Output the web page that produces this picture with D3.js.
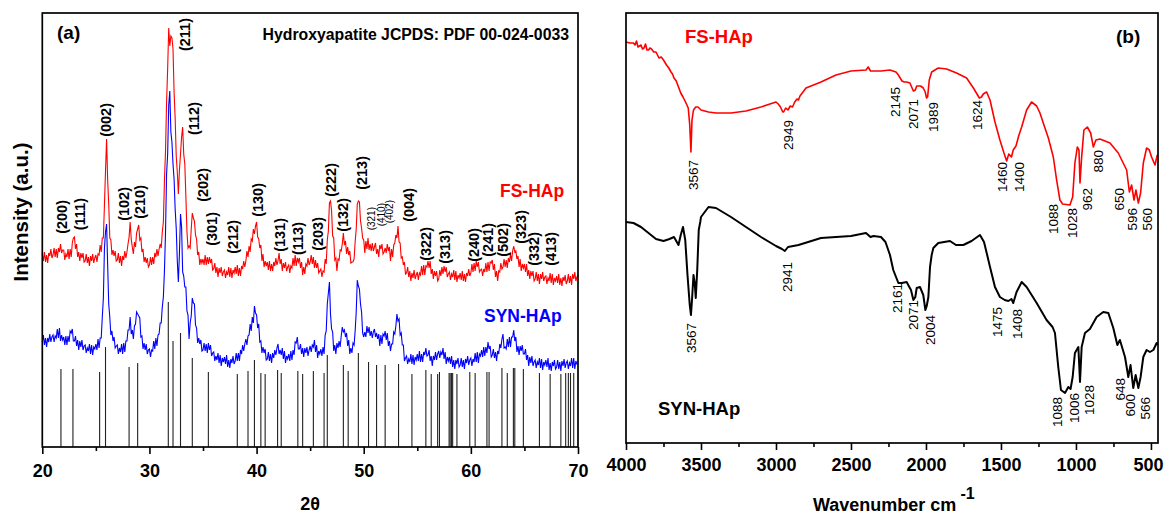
<!DOCTYPE html>
<html><head><meta charset="utf-8">
<script src="https://cdn.jsdelivr.net/npm/d3@7"></script>
<style>
body{margin:0;background:#fff}
svg{display:block}
text{font-family:"Liberation Sans",Arial,Helvetica,sans-serif}
</style>
</head><body>
<svg id="chart" width="1164" height="515"></svg>
<script>
// ---------- (a) XRD data: intensities sampled every 0.1 degree from 20 to 70 (2θ) ----------
const xrdStart = 20, xrdStep = 0.1;
const fsHApXRD = [
193,186,195,185,192,184,194,191,198,189,
192,199,190,198,189,199,195,203,194,197,
197,187,193,190,198,188,198,190,204,209,
210,198,203,190,195,186,194,189,194,185,
186,193,184,190,181,191,186,193,184,189,
192,185,193,192,202,195,209,209,242,276,
308,267,243,209,207,192,197,191,196,186,
187,194,184,191,181,191,187,196,189,195,
203,210,225,208,200,193,205,200,214,218,
222,207,209,195,198,185,190,184,189,180,
182,190,182,190,183,194,190,198,191,198,
203,199,215,225,266,296,345,378,419,401,
411,409,398,355,329,291,275,253,277,293,
310,320,293,283,251,216,199,201,199,218,
234,229,226,212,208,192,195,182,188,184,
188,182,192,182,190,183,190,184,188,177,
178,184,174,180,170,179,174,180,171,175,
177,169,175,172,180,170,179,169,177,174,
180,173,182,171,179,171,181,178,186,180,
186,196,190,201,195,208,206,218,213,221,
225,210,208,199,202,186,193,180,186,181,
185,177,186,176,183,176,185,181,189,182,
186,194,183,188,176,184,179,185,176,180,
182,174,181,179,189,181,192,181,189,185,
189,179,185,172,180,173,183,181,189,182,
185,192,183,190,179,187,179,184,174,176,
178,170,176,175,188,183,207,216,244,246,
236,211,209,187,189,176,188,187,197,196,
203,214,202,206,193,200,192,196,184,185,
185,188,205,218,243,246,245,226,219,209,
207,194,206,198,209,197,203,196,204,196,
200,204,193,198,190,202,198,203,193,195,
199,194,203,196,200,186,198,190,202,204,
212,209,221,205,204,189,190,182,185,173,
174,180,170,176,166,174,169,177,168,172,
175,167,174,172,181,172,182,172,181,180,
186,179,186,173,178,168,176,171,176,166,
168,177,171,180,173,181,175,180,170,173,
175,167,173,170,177,167,176,165,172,169,
174,167,176,166,173,165,174,171,178,171,
174,183,175,184,176,186,180,185,175,177,
178,171,178,175,184,175,185,176,185,184,
187,177,183,170,176,166,176,175,184,178,
180,188,180,187,179,189,185,193,186,196,
201,195,196,188,191,180,188,176,183,179,
183,175,183,171,177,168,176,171,176,166,
168,175,166,173,163,173,168,175,166,170,
171,163,169,166,174,164,173,162,169,166,
171,164,173,162,169,161,170,166,172,163,
166,173,164,171,162,173,168,175,166,170,
172];
const synHApXRD = [
105,112,102,109,100,109,105,113,105,110,
112,105,111,109,118,109,119,106,112,107,
110,102,111,102,111,105,116,114,118,106,
106,111,101,107,97,106,100,107,97,101,
102,94,99,96,103,93,102,92,100,98,
103,97,108,99,109,109,130,149,199,215,
223,182,143,130,112,116,106,110,99,101,
102,93,99,95,103,93,104,95,106,106,
117,117,130,113,117,108,121,123,135,133,
131,129,110,111,98,104,97,103,93,97,
98,90,97,96,106,98,109,101,112,113,
124,124,140,150,176,214,273,293,342,356,
315,305,283,268,238,219,186,165,194,233,
220,175,171,160,160,136,132,108,124,131,
149,144,143,122,119,104,109,103,107,96,
97,104,96,103,94,104,97,102,91,94,
95,86,91,87,94,84,92,81,89,85,
90,83,92,80,87,79,88,84,91,83,
86,94,86,94,86,97,93,102,96,103,
108,102,111,112,123,116,130,124,141,134,
132,119,123,105,106,94,100,94,98,87,
88,95,86,93,84,94,89,97,92,99,
103,93,97,92,99,88,96,84,91,88,
93,86,96,87,97,92,105,104,110,98,
98,103,93,99,90,99,94,100,91,97,
101,95,102,100,107,95,102,89,96,93,
98,91,100,93,112,116,143,154,165,133,
118,115,96,102,93,104,99,106,100,111,
120,115,117,110,114,101,107,93,99,94,
104,102,116,135,167,161,158,143,135,114,
110,115,110,121,114,120,111,116,109,115,
118,110,114,108,113,101,112,103,113,111,
116,107,114,101,106,96,103,103,115,113,
121,133,126,128,112,114,102,102,86,89,
91,83,88,85,93,83,92,82,90,87,
93,86,96,85,93,85,95,92,99,91,
92,97,86,91,81,91,87,95,87,93,
96,89,95,92,99,88,95,83,90,86,
90,83,91,80,87,78,87,83,89,80,
82,89,80,87,78,88,84,91,82,87,
89,81,88,85,94,85,95,84,93,91,
97,90,100,91,100,94,105,98,101,90,
92,98,89,95,86,96,93,103,99,108,
113,99,100,98,108,100,110,100,110,110,
117,106,110,95,101,92,101,96,102,93,
93,98,87,92,81,90,84,91,81,85,
87,79,85,82,89,79,88,77,85,82,
87,80,89,77,84,76,85,81,87,78,
80,87,78,85,76,86,81,88,79,84,
86,78,84,81,89,79,89,78,86,83,
84];
// JCPDS 00-024-0033 reference lines
const refPeak2Theta = [21.74,22.86,25.35,25.9,28.1,28.9,31.76,32.2,32.9,34.0,35.5,38.2,39.2,39.8,40.4,40.8,41.96,42.3,43.85,44.3,45.3,46.3,46.6,48.1,48.55,49.5,50.45,51.2,52.0,53.25,54.5,55.8,56.3,56.9,57.07,57.97,58.07,58.2,58.3,58.7,59.9,60.4,61.5,61.7,62.9,63.4,63.97,64.1,64.9,66.4,67.4,68.4,68.85,69.1,69.3,69.6];
const refPeakIntensity = [78,78,75,100,80,84,145,106,114,89,75,73,76,87,74,73,77,74,76,73,76,74,92,82,76,94,85,82,82,83,73,77,73,73,75,74,74,74,74,73,75,74,75,75,79,74,79,79,78,74,73,73,74,74,74,74];
// hkl annotations: [label, 2θ, top of label (intensity units)]
const hklLabels = [
["(200)",21.84,247],["(111)",23.52,249],["(002)",25.95,344],["(102)",27.62,260],["(210)",29.11,262],
["(211)",33.31,429],["(112)",34.15,345],["(202)",34.99,279],["(301)",35.83,235],["(212)",37.79,227],
["(130)",40.12,264],["(131)",42.17,229],["(113)",43.85,225],["(203)",45.72,230],["(222)",46.94,284],
["(132)",48.05,249],["(213)",49.82,291],["(321)",50.75,240],["(410)",51.68,244],["(402)",52.43,247],
["(004)",54.2,259],["(322)",55.8,220],["(313)",57.56,217],["(240)",60.27,219],["(241)",61.58,224],
["(502)",62.98,224],["(323)",64.65,237],["(332)",65.86,215],["(413)",67.44,215]];
const smallHkl = ["(321)","(410)","(402)"];
const xrdTicks = [20,30,40,50,60,70];
const xrdMinorTicks = [25,35,45,55,65];

// ---------- (b) FTIR data: [wavenumber cm-1, transmittance a.u.] ----------
const fsHApFTIR = [[4000,401],[3975,400],[3950,400],[3940,398],[3930,402],[3920,396],[3910,397],[3900,398],[3890,394],[3880,395],[3870,399],[3860,393],[3850,393],[3840,395],[3830,394],[3815,391],[3800,391],[3780,385],[3765,386],[3750,383],[3730,378],[3715,375],[3700,371],[3690,369],[3680,365],[3665,362],[3650,356],[3635,350],[3620,346],[3600,340],[3585,335],[3575,318],[3567,291],[3560,323],[3550,333],[3535,336],[3520,336],[3500,333],[3450,331],[3400,330],[3300,330],[3200,332],[3100,336],[3020,340],[3000,341],[2985,339],[2970,336],[2955,331],[2949,331],[2935,335],[2920,333],[2905,337],[2890,336],[2875,341],[2860,344],[2850,343],[2840,347],[2830,349],[2800,355],[2750,358],[2700,361],[2600,368],[2500,372],[2400,373],[2385,376],[2370,372],[2300,372],[2240,373],[2200,371],[2184,368],[2160,362],[2145,361],[2129,361],[2107,360],[2084,352],[2071,353],[2062,357],[2036,357],[2018,355],[2005,351],[1996,345],[1989,346],[1978,363],[1962,371],[1918,375],[1862,374],[1796,370],[1729,365],[1684,355],[1644,345],[1630,346],[1618,349],[1596,351],[1573,343],[1540,321],[1507,303],[1480,290],[1462,282],[1448,289],[1430,286],[1418,293],[1400,297],[1380,308],[1362,316],[1329,333],[1296,341],[1262,337],[1240,330],[1218,320],[1184,305],[1151,286],[1129,263],[1107,243],[1089,239],[1040,238],[1022,246],[1007,280],[991,296],[980,293],[973,260],[962,286],[947,313],[924,316],[902,310],[884,296],[867,303],[840,304],[773,300],[718,290],[662,273],[644,251],[629,258],[613,243],[600,253],[584,240],[569,250],[551,280],[529,295],[511,293],[496,286],[473,278],[458,288]];
const synHApFTIR = [[4000,221],[3950,220],[3900,216],[3850,210],[3800,204],[3750,202],[3710,204],[3680,206],[3650,198],[3635,208],[3620,216],[3605,203],[3590,168],[3575,138],[3567,128],[3560,143],[3550,168],[3542,160],[3535,145],[3525,173],[3515,213],[3505,221],[3500,226],[3450,236],[3400,235],[3300,226],[3200,216],[3100,206],[3000,197],[2960,194],[2941,192],[2920,196],[2850,198],[2700,205],[2500,207],[2400,210],[2370,206],[2350,207],[2300,206],[2270,201],[2240,188],[2218,173],[2184,160],[2161,160],[2129,161],[2100,153],[2084,143],[2071,146],[2062,155],[2040,156],[2018,148],[2004,133],[1995,137],[1984,146],[1973,176],[1962,188],[1951,195],[1918,200],[1840,202],[1800,198],[1751,198],[1696,202],[1640,208],[1613,201],[1600,193],[1573,176],[1540,156],[1507,146],[1475,143],[1451,142],[1430,144],[1418,140],[1396,151],[1362,161],[1329,156],[1262,140],[1196,123],[1156,116],[1140,110],[1118,76],[1100,53],[1073,50],[1051,56],[1036,54],[1022,66],[1007,90],[984,96],[973,61],[962,96],[940,110],[907,114],[862,126],[818,131],[784,130],[751,115],[724,98],[707,103],[673,86],[651,66],[636,78],[618,55],[602,68],[584,55],[569,66],[551,86],[529,93],[507,91],[484,93],[462,100],[455,98]];
// band annotations: [label, wavenumber, top of label (transmittance units)]
const fsBandLabels = [["3567",3553,283],["2949",2920,323],["2145",2207,356],["2071",2087,344],["1989",1953,341],["1624",1660,343],["1460",1493,281],["1400",1380,281],["1088",1153,239],["1028",1027,235],["962",927,255],["880",853,293],["650",713,255],["596",627,235],["560",527,235]];
const synBandLabels = [["3567",3567,120],["2941",2927,181],["2161",2193,160],["2071",2087,143],["2004",1973,128],["1475",1527,136],["1408",1393,134],["1088",1127,46],["1006",1013,50],["1028",913,58],["648",707,65],["600",640,49],["566",540,46]];
const ftirTicks = [4000,3500,3000,2500,2000,1500,1000,500];
const ftirMinorTicks = [3750,3250,2750,2250,1750,1250,750];

// ---------- drawing ----------
const svg = d3.select("#chart");
const xA = d3.scaleLinear().domain([20,70]).range([42.3,578]);
const yA = d3.scaleLinear().domain([0,434]).range([447,13]);
const xB = d3.scaleLinear().domain([4000,453]).range([626,1158]);
const yB = d3.scaleLinear().domain([0,430]).range([443,13]);

function frame(x, y){
  svg.append("rect").attr("x",x.range()[0]).attr("y",y.range()[1])
    .attr("width",x.range()[1]-x.range()[0]).attr("height",y.range()[0]-y.range()[1])
    .attr("fill","none").attr("stroke","#000").attr("stroke-width",1.7);
}
function bottomAxis(x, y, major, minor, pad){
  const g = svg.append("g").attr("transform",`translate(0,${y.range()[0]})`)
    .call(d3.axisBottom(x).tickValues(major).tickSize(7).tickPadding(pad).tickFormat(d3.format("d")));
  g.select(".domain").remove();
  g.selectAll("line").attr("stroke-width",1.6);
  g.selectAll("text").attr("font-size",18).attr("font-weight","bold").attr("fill","#000")
    .style("font-family",'"Liberation Sans",Arial,sans-serif');
  const m = svg.append("g").attr("transform",`translate(0,${y.range()[0]})`)
    .call(d3.axisBottom(x).tickValues(minor).tickSize(4).tickFormat(""));
  m.select(".domain").remove();
  m.selectAll("line").attr("stroke-width",1.6);
  return g;
}

// panel (a)
const gA = svg.append("g");
gA.selectAll("line.ref").data(refPeak2Theta).join("line").attr("class","ref")
  .attr("x1",d=>xA(d)).attr("x2",d=>xA(d))
  .attr("y1",yA(0)).attr("y2",(d,i)=>yA(refPeakIntensity[i]))
  .attr("stroke","#222").attr("stroke-width",1.1);
const lineA = d3.line().x((d,i)=>xA(xrdStart+i*xrdStep)).y(d=>yA(d));
gA.append("path").datum(synHApXRD).attr("d",lineA).attr("fill","none").attr("stroke","#0000ff").attr("stroke-width",1.1);
gA.append("path").datum(fsHApXRD).attr("d",lineA).attr("fill","none").attr("stroke","#ff0000").attr("stroke-width",1.1);
gA.selectAll("text.hkl").data(hklLabels).join("text").attr("class","hkl")
  .attr("transform",d=>`translate(${xA(d[1])},${yA(d[2])}) rotate(-90)`)
  .attr("dy","0.36em").attr("text-anchor","end")
  .attr("font-size",d=>smallHkl.includes(d[0])?10:14.5)
  .attr("font-weight",d=>smallHkl.includes(d[0])?"normal":"bold")
  .text(d=>d[0]);
frame(xA,yA);
bottomAxis(xA,yA,xrdTicks,xrdMinorTicks,10);
svg.append("text").attr("x",57).attr("y",39).attr("font-size",19).attr("font-weight","bold").text("(a)");
svg.append("text").attr("x",569).attr("y",40).attr("text-anchor","end").attr("font-size",15.8).attr("font-weight","bold").text("Hydroxyapatite JCPDS: PDF 00-024-0033");
svg.append("text").attr("x",500).attr("y",197).attr("font-size",17.5).attr("font-weight","bold").attr("fill","#ff0000").text("FS-HAp");
svg.append("text").attr("x",484).attr("y",322).attr("font-size",17.5).attr("font-weight","bold").attr("fill","#0000ff").text("SYN-HAp");
svg.append("text").attr("x",(xA.range()[0]+xA.range()[1])/2).attr("y",510).attr("text-anchor","middle").attr("font-size",18).attr("font-weight","bold").text("2θ");
svg.append("text").attr("transform","translate(28,212) rotate(-90)").attr("text-anchor","middle").attr("font-size",20.5).attr("font-weight","bold").text("Intensity (a.u.)");

// panel (b)
const gB = svg.append("g");
const lineB = d3.line().x(d=>xB(d[0])).y(d=>yB(d[1]));
gB.append("path").datum(fsHApFTIR).attr("d",lineB).attr("fill","none").attr("stroke","#ff0000").attr("stroke-width",1.6).attr("stroke-linejoin","round");
gB.append("path").datum(synHApFTIR).attr("d",lineB).attr("fill","none").attr("stroke","#000").attr("stroke-width",2).attr("stroke-linejoin","round");
gB.selectAll("text.band").data(fsBandLabels.concat(synBandLabels)).join("text").attr("class","band")
  .attr("transform",d=>`translate(${xB(d[1])},${yB(d[2])}) rotate(-90)`)
  .attr("dy","0.36em").attr("text-anchor","end").attr("font-size",13.5)
  .text(d=>d[0]);
frame(xB,yB);
const axB = bottomAxis(xB,yB,ftirTicks,ftirMinorTicks,8);
axB.selectAll("text").filter(d=>d===500).attr("text-anchor","end").attr("x",1163-xB(500));
svg.append("text").attr("x",1116).attr("y",43).attr("font-size",19).attr("font-weight","bold").text("(b)");
svg.append("text").attr("x",685).attr("y",43).attr("font-size",18.5).attr("font-weight","bold").attr("fill","#ff0000").text("FS-HAp");
svg.append("text").attr("x",658).attr("y",415).attr("font-size",18.5).attr("font-weight","bold").attr("fill","#000").text("SYN-HAp");
const tB = svg.append("text").attr("x",813).attr("y",511).attr("font-size",18).attr("font-weight","bold");
tB.append("tspan").text("Wavenumber cm");
tB.append("tspan").attr("dx",4).attr("dy",-12).attr("font-size",16).text("-1");
</script>
</body></html>
